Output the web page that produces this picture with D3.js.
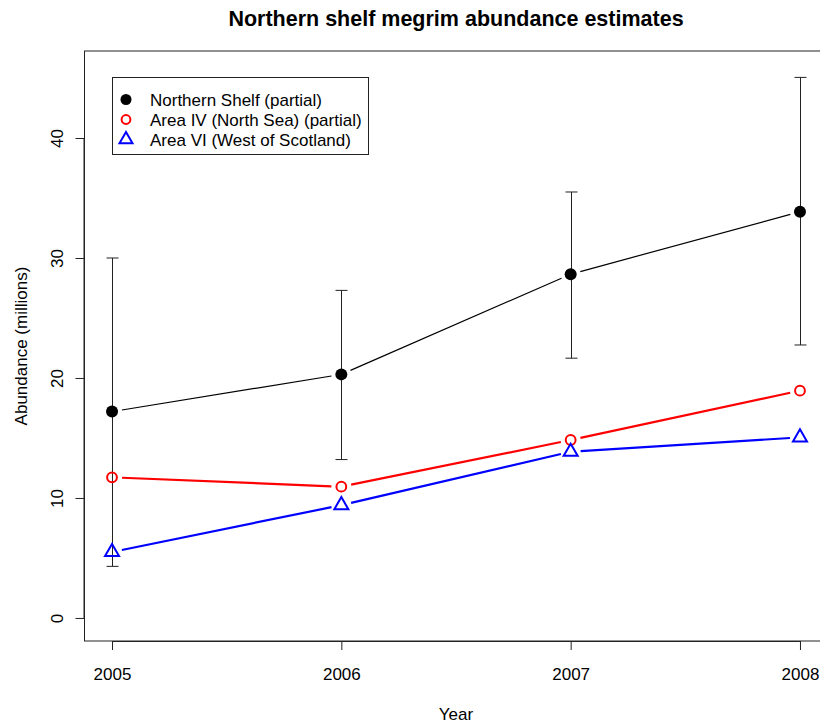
<!DOCTYPE html>
<html>
<head>
<meta charset="utf-8">
<script src="https://cdn.jsdelivr.net/npm/d3@7"></script>
<style>
  html, body { margin: 0; padding: 0; background: #fff; }
  svg { display: block; font-family: "Liberation Sans", Arial, Helvetica, sans-serif; }
</style>
</head>
<body>
<svg id="chart" width="820" height="727"></svg>
<script>
// Survey years and abundance estimates (millions)
const years = [2005, 2006, 2007, 2008];
const northernShelf = [17.2, 20.3, 28.65, 33.85];
const northernLower = [4.3, 13.2, 21.65, 22.75];
const northernUpper = [30.0, 27.3, 35.5, 45.05];
const areaIV = [11.72, 10.94, 14.83, 18.94];
const areaVI = [5.5, 9.4, 13.85, 15.05];
const yTicks = [0, 10, 20, 30, 40];
const legendLabels = [
  "Northern Shelf (partial)",
  "Area IV (North Sea) (partial)",
  "Area VI (West of Scotland)"
];

const FONT = 17;
const svg = d3.select("#chart");

// Plot region (R-style 4% padding on both axes)
const x = d3.scaleLinear().domain([2005 - 0.12, 2008 + 0.12]).range([84.5, 827.5]);
const y = d3.scaleLinear().domain([-1.92, 47.25]).range([641, 51]);

// Frame
svg.append("rect")
  .attr("x", x.range()[0]).attr("y", y.range()[1])
  .attr("width", x.range()[1] - x.range()[0])
  .attr("height", y.range()[0] - y.range()[1])
  .attr("fill", "none").attr("stroke", "#222").attr("stroke-width", 1);

// X axis
const xAxis = svg.append("g")
  .attr("transform", `translate(0,${y.range()[0]})`)
  .call(d3.axisBottom(x).tickValues(years).tickFormat(d3.format("d")).tickSize(9));
xAxis.select(".domain").attr("d", `M${x(2005)},0.5H${x(2008)}`).attr("stroke", "#222");
xAxis.selectAll(".tick line").attr("stroke", "#222");
xAxis.selectAll(".tick text")
  .attr("font-size", FONT).attr("fill", "#000")
  .attr("font-family", "Liberation Sans, Arial, sans-serif")
  .attr("y", 39).attr("dy", 0);

// Y axis with labels parallel to the axis
const yAxis = svg.append("g")
  .attr("transform", `translate(${x.range()[0]},0)`)
  .call(d3.axisLeft(y).tickValues(yTicks).tickSize(9));
yAxis.select(".domain").attr("d", `M-0.5,${y(0)}V${y(40)}`).attr("stroke", "#222");
yAxis.selectAll(".tick line").attr("stroke", "#222");
yAxis.selectAll(".tick text")
  .attr("font-size", FONT).attr("fill", "#000")
  .attr("font-family", "Liberation Sans, Arial, sans-serif")
  .attr("x", 0).attr("y", 0).attr("dy", 0)
  .attr("text-anchor", "middle")
  .attr("transform", "translate(-21.5,0) rotate(-90)");

// Titles
svg.append("text")
  .attr("x", 456).attr("y", 26)
  .attr("text-anchor", "middle")
  .attr("font-size", 21.5).attr("font-weight", "bold")
  .text("Northern shelf megrim abundance estimates");
svg.append("text")
  .attr("x", 456).attr("y", 720)
  .attr("text-anchor", "middle")
  .attr("font-size", FONT)
  .text("Year");
svg.append("text")
  .attr("transform", `translate(27,${(y.range()[0] + y.range()[1]) / 2}) rotate(-90)`)
  .attr("text-anchor", "middle")
  .attr("font-size", FONT)
  .text("Abundance (millions)");

// Connecting segments with gaps around the points
function gappedSegments(values, color, width, gap) {
  const pts = years.map((yr, i) => [x(yr), y(values[i])]);
  const g = svg.append("g");
  for (let i = 0; i < pts.length - 1; i++) {
    const [x0, y0] = pts[i], [x1, y1] = pts[i + 1];
    const len = Math.hypot(x1 - x0, y1 - y0);
    const ux = (x1 - x0) / len, uy = (y1 - y0) / len;
    g.append("line")
      .attr("x1", x0 + ux * gap).attr("y1", y0 + uy * gap)
      .attr("x2", x1 - ux * gap).attr("y2", y1 - uy * gap)
      .attr("stroke", color).attr("stroke-width", width);
  }
}

// Error bars for Northern Shelf
const eb = svg.append("g").attr("stroke", "#222").attr("stroke-width", 1);
years.forEach((yr, i) => {
  const cx = Math.round(x(yr)) + 0.5;
  eb.append("line").attr("x1", cx).attr("x2", cx)
    .attr("y1", y(northernLower[i])).attr("y2", y(northernUpper[i]));
  [northernLower[i], northernUpper[i]].forEach(v => {
    eb.append("line").attr("x1", cx - 6).attr("x2", cx + 6)
      .attr("y1", y(v)).attr("y2", y(v));
  });
});

gappedSegments(northernShelf, "#000", 1.2, 10);
gappedSegments(areaIV, "#ff0000", 2.2, 10);
gappedSegments(areaVI, "#0000ff", 2.2, 10);

// Markers
svg.append("g").selectAll("circle")
  .data(northernShelf).join("circle")
  .attr("cx", (d, i) => x(years[i])).attr("cy", d => y(d))
  .attr("r", 6).attr("fill", "#000");

svg.append("g").selectAll("circle")
  .data(areaIV).join("circle")
  .attr("cx", (d, i) => x(years[i])).attr("cy", d => y(d))
  .attr("r", 4.9).attr("fill", "none").attr("stroke", "#ff0000").attr("stroke-width", 2);

const tri = (cx, cy, s) => {
  const h = s * Math.sqrt(3) / 2;
  return `M${cx},${cy - h * 2 / 3}L${cx + s / 2},${cy + h / 3}L${cx - s / 2},${cy + h / 3}Z`;
};
svg.append("g").selectAll("path")
  .data(areaVI).join("path")
  .attr("d", (d, i) => tri(x(years[i]), y(d), 14))
  .attr("fill", "none").attr("stroke", "#0000ff").attr("stroke-width", 2);

// Legend
const lg = svg.append("g");
lg.append("rect").attr("x", 112.5).attr("y", 77.5).attr("width", 256).attr("height", 77)
  .attr("fill", "#fff").attr("stroke", "#222").attr("stroke-width", 1);
const rowY = [99.5, 119.5, 139.5];
lg.append("circle").attr("cx", 126).attr("cy", rowY[0]).attr("r", 5.5).attr("fill", "#000");
lg.append("circle").attr("cx", 126).attr("cy", rowY[1]).attr("r", 4.4)
  .attr("fill", "none").attr("stroke", "#ff0000").attr("stroke-width", 2);
lg.append("path").attr("d", tri(126, rowY[2], 13))
  .attr("fill", "none").attr("stroke", "#0000ff").attr("stroke-width", 2);
lg.selectAll("text").data(legendLabels).join("text")
  .attr("x", 150).attr("y", (d, i) => rowY[i] + 6.2)
  .attr("font-size", FONT)
  .text(d => d);
</script>
</body>
</html>
